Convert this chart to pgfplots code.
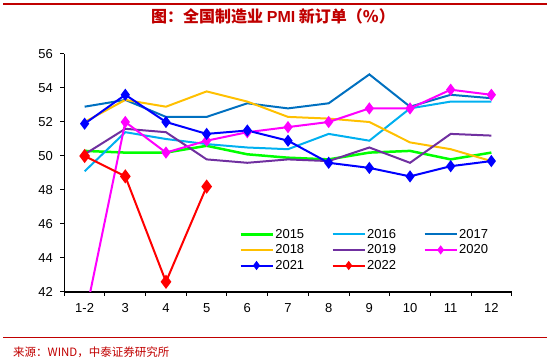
\documentclass[border=0pt]{standalone}
\usepackage{pgfplots}
\pgfplotsset{compat=1.18}
\usepackage{fontspec}
\setmainfont{Liberation Sans}
\newfontfamily\cjk{Noto Sans CJK SC}
\definecolor{hdr}{HTML}{C00000}
\definecolor{c15}{HTML}{00FF00}
\definecolor{c16}{HTML}{00B0F0}
\definecolor{c17}{HTML}{0070C0}
\definecolor{c18}{HTML}{FFC000}
\definecolor{c19}{HTML}{7030A0}
\definecolor{c20}{HTML}{FF00FF}
\definecolor{c21}{HTML}{0000FF}
\definecolor{c22}{HTML}{FF0000}
\begin{document}
\begin{tikzpicture}[x=1pt,y=1pt]
\path[use as bounding box] (0,0) rectangle (550,359);
\draw[hdr, line width=2pt] (3,355) -- (547,355);
\node[hdr, font=\fontsize{16}{16}\selectfont] at (273,343) {\cjk\bfseries 图：全国制造业 {\rmfamily\bfseries PMI} 新订单（\%）};
\draw[hdr, line width=0.8pt] (3,22) -- (547,22);
\node[anchor=west, hdr, font=\fontsize{11.5}{11.5}\selectfont, inner sep=0pt] at (13,7) {\cjk 来源：WIND，中泰证券研究所};
\begin{axis}[
  at={(64.3pt,67pt)}, anchor=south west, scale only axis,
  width=447.4pt, height=238pt,
  xmin=-0.5, xmax=10.5, ymin=42, ymax=56,
  ytick={42,44,...,56},
  xtick={-0.5,0.5,...,10.5}, x tick label as interval,
  xticklabels={1-2,3,4,5,6,7,8,9,10,11,12},
  axis x line=bottom, axis y line=left,
  axis line style={-, line width=1.2pt, black},
  tick align=outside, major tick length=4pt,
  tick style={black, line width=1pt},
  tick label style={font=\fontsize{13}{13}\selectfont},
  yticklabel style={xshift=-4pt},
  xticklabel style={yshift=-4pt},
  /pgf/number format/assume math mode=true,
  legend columns=3,
  legend cell align=left,
  legend style={at={(0.384,0.28)}, anchor=north west, draw=none, fill=none,
    font=\fontsize{13}{13}\selectfont, nodes={inner sep=1.5pt}, row sep=2pt,
    /tikz/every even column/.append style={column sep=26pt}},
  legend image code/.code={\draw[mark repeat=2,mark phase=2] plot coordinates {(0pt,0pt)(16pt,0pt)(32pt,0pt)};},
  every axis plot/.append style={line width=2pt},
]
\addplot[c15, mark=none, line width=2.5pt] coordinates {(0,50.3)(1,50.2)(2,50.2)(3,50.6)(4,50.1)(5,49.9)(6,49.8)(7,50.2)(8,50.3)(9,49.8)(10,50.2)};
\addlegendentry{2015}
\addplot[c16, mark=none] coordinates {(0,49.1)(1,51.4)(2,51.0)(3,50.7)(4,50.5)(5,50.4)(6,51.3)(7,50.9)(8,52.8)(9,53.2)(10,53.2)};
\addlegendentry{2016}
\addplot[c17, mark=none] coordinates {(0,52.9)(1,53.3)(2,52.3)(3,52.3)(4,53.1)(5,52.8)(6,53.1)(7,54.8)(8,52.9)(9,53.6)(10,53.4)};
\addlegendentry{2017}
\addplot[c18, mark=none] coordinates {(0,52.0)(1,53.3)(2,52.9)(3,53.8)(4,53.2)(5,52.3)(6,52.2)(7,52.0)(8,50.8)(9,50.4)(10,49.7)};
\addlegendentry{2018}
\addplot[c19, mark=none] coordinates {(0,50.1)(1,51.6)(2,51.4)(3,49.8)(4,49.6)(5,49.8)(6,49.7)(7,50.5)(8,49.6)(9,51.3)(10,51.2)};
\addlegendentry{2019}
\addplot[c20, mark=diamond*, mark size=4.5pt, mark options={solid}, legend image post style={mark size=3pt}] coordinates {(0,40.4)(1,52.0)(2,50.2)(3,50.9)(4,51.4)(5,51.7)(6,52.0)(7,52.8)(8,52.8)(9,53.9)(10,53.6)};
\addlegendentry{2020}
\addplot[c21, mark=diamond*, mark size=4.5pt, mark options={solid}, legend image post style={mark size=3pt}] coordinates {(0,51.9)(1,53.6)(2,52.0)(3,51.3)(4,51.5)(5,50.9)(6,49.6)(7,49.3)(8,48.8)(9,49.4)(10,49.7)};
\addlegendentry{2021}
\addplot[c22, mark=diamond*, mark size=5.5pt, mark options={solid}, legend image post style={mark size=3pt}] coordinates {(0,50.0)(1,48.8)(2,42.6)(3,48.2)};
\addlegendentry{2022}
\end{axis}
\end{tikzpicture}
\end{document}
